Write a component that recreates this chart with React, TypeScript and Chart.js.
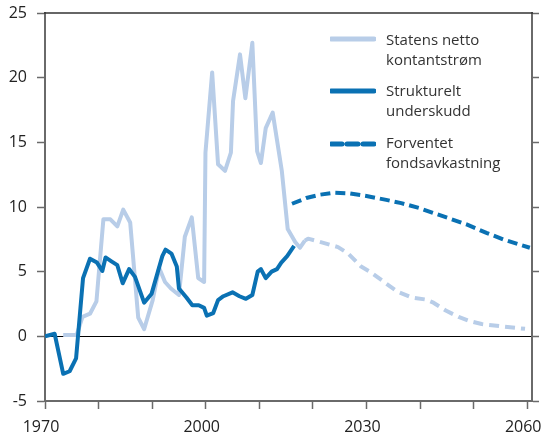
import { useEffect, useRef } from "react";
import { Chart, registerables } from "chart.js";

Chart.register(...registerables);

// Statens netto kontantstrøm (historical + projection, projection dashed)
const nettoYears = [
  1973.4, 1975.9, 1977.0, 1978.4, 1979.6, 1980.9, 1982.2, 1983.5, 1984.6, 1985.9,
  1987.4, 1988.5, 1990.1, 1991.3, 1992.4, 1993.5, 1995.0, 1996.1, 1997.4, 1998.6,
  1999.7, 1999.95, 2001.2, 2002.3, 2003.6, 2004.7, 2005.1, 2006.4, 2007.4, 2008.7,
  2009.6, 2010.3, 2011.2, 2012.5, 2014.2, 2015.3, 2016.7, 2017.6, 2018.5,
  2019.1, 2021.8, 2024.7, 2026.6, 2029.0, 2031.0, 2033.3, 2035.8, 2038.5, 2041.0,
  2042.5, 2044.8, 2047.2, 2049.5, 2051.5, 2055.0, 2059.6,
];
const nettoValues = [
  0.1, 0.1, 1.5, 1.75, 2.7, 9.05, 9.05, 8.5, 9.8, 8.8,
  1.45, 0.55, 2.8, 5.3, 4.2, 3.7, 3.2, 7.7, 9.2, 4.5,
  4.2, 14.2, 20.4, 13.3, 12.8, 14.2, 18.2, 21.8, 18.4, 22.7,
  14.3, 13.4, 16.1, 17.3, 12.8, 8.3, 7.3, 6.85, 7.4,
  7.55, 7.25, 6.9, 6.4, 5.4, 4.9, 4.2, 3.45, 3.0, 2.85,
  2.6, 2.0, 1.5, 1.15, 0.95, 0.78, 0.58,
];
const nettoProjectionFrom = 2018.5;

// Strukturelt underskudd
const underskuddYears = [
  1970.0, 1971.8, 1973.4, 1974.6, 1975.8, 1977.1, 1978.4, 1979.7, 1980.7, 1981.3,
  1982.4, 1983.5, 1984.5, 1985.7, 1986.8, 1988.5, 1989.9, 1991.9, 1992.5, 1993.6,
  1994.6, 1995.0, 1996.4, 1997.5, 1998.7, 1999.7, 2000.2, 2001.4, 2002.3, 2003.3,
  2005.0, 2006.3, 2007.5, 2008.7, 2009.7, 2010.3, 2011.2, 2012.3, 2013.3, 2014.1,
  2015.2, 2016.5,
];
const underskuddValues = [
  0.0, 0.2, -2.9, -2.7, -1.7, 4.5, 6.0, 5.7, 5.05, 6.1,
  5.8, 5.5, 4.1, 5.2, 4.6, 2.6, 3.3, 6.2, 6.7, 6.4,
  5.4, 3.7, 3.0, 2.4, 2.4, 2.2, 1.6, 1.8, 2.8, 3.1,
  3.4, 3.1, 2.9, 3.2, 5.0, 5.2, 4.5, 5.0, 5.2, 5.7,
  6.2, 7.0,
];

// Forventet fondsavkastning
const avkastningYears = [
  2016.1, 2018.8, 2021.3, 2023.8, 2026.9, 2030.0, 2033.7, 2036.5, 2040.0, 2042.4,
  2045.6, 2048.7, 2052.4, 2055.5, 2060.5,
];
const avkastningValues = [
  10.25, 10.7, 10.95, 11.1, 11.05, 10.85, 10.55, 10.3, 9.9, 9.55,
  9.1, 8.65, 8.0, 7.5, 6.85,
];

const xTickYears = [1970, 1980, 1990, 2000, 2010, 2020, 2030, 2040, 2050, 2060];
const xLabelYears = [1970, 2000, 2030, 2060];
const yMin = -5;
const yMax = 25;
const yStep = 5;

const legendLabels = [
  ["Statens netto", "kontantstrøm"],
  ["Strukturelt", "underskudd"],
  ["Forventet", "fondsavkastning"],
];

const LIGHT = "#b8cde8";
const DARK = "#0a71b3";
const AXIS = "#6a6a6a";
const TEXT = "#222222";
const FONT = "'Open Sans', 'DejaVu Sans', sans-serif";

const toPoints = (xs: number[], ys: number[]) => xs.map((x, i) => ({ x, y: ys[i] }));

export default function App() {
  const canvasRef = useRef<HTMLCanvasElement | null>(null);

  useEffect(() => {
    document.body.style.margin = "0";
    const canvas = canvasRef.current;
    if (!canvas) return;

    const topBorder = {
      id: "topBorder",
      afterDraw(chart: any) {
        const { ctx, chartArea } = chart;
        ctx.save();
        ctx.strokeStyle = "#333333";
        ctx.lineWidth = 1.5;
        ctx.beginPath();
        ctx.moveTo(chartArea.left - 1, chartArea.top);
        ctx.lineTo(chartArea.right + 1, chartArea.top);
        ctx.stroke();
        ctx.restore();
      },
    };

    const chart = new Chart(canvas, {
      type: "line",
      data: {
        datasets: [
          {
            label: "Strukturelt underskudd",
            data: toPoints(underskuddYears, underskuddValues),
            borderColor: DARK,
            borderWidth: 4,
            pointRadius: 0,
            tension: 0,
            borderJoinStyle: "round",
            fill: false,
          },
          {
            label: "Forventet fondsavkastning",
            data: toPoints(avkastningYears, avkastningValues),
            borderColor: DARK,
            borderWidth: 4,
            borderDash: [10, 5],
            pointRadius: 0,
            tension: 0,
            fill: false,
          },
          {
            label: "Statens netto kontantstrøm",
            data: toPoints(nettoYears, nettoValues),
            borderColor: LIGHT,
            borderWidth: 4,
            pointRadius: 0,
            tension: 0,
            borderJoinStyle: "round",
            fill: false,
            segment: {
              borderDash: (ctx: any) =>
                ctx.p0.parsed.x >= nettoProjectionFrom ? [10, 6] : undefined,
            },
          },
        ],
      },
      options: {
        responsive: false,
        animation: false,
        layout: { padding: { top: 13, left: 0, right: 0, bottom: 0 } },
        plugins: {
          legend: { display: false },
          tooltip: { enabled: false },
        },
        scales: {
          x: {
            type: "linear",
            min: 1970,
            max: 2060.9,
            afterBuildTicks: (s: any) => {
              s.ticks = xTickYears.map((v) => ({ value: v }));
            },
            afterFit: (s: any) => {
              s.height = 35;
              s.paddingLeft = 0;
              s.paddingRight = 0;
            },
            ticks: {
              autoSkip: false,
              maxRotation: 0,
              padding: 9,
              labelOffset: -4,
              color: TEXT,
              font: { family: FONT, size: 16 },
              callback: (v: any) => (xLabelYears.includes(Number(v)) ? String(v) : ""),
            },
            grid: {
              drawOnChartArea: false,
              drawTicks: true,
              tickLength: 8,
              tickColor: AXIS,
              tickWidth: 1.5,
            },
            border: { color: AXIS, width: 2 },
          },
          y: {
            type: "linear",
            position: "left",
            min: yMin,
            max: yMax,
            afterFit: (s: any) => {
              s.width = 45;
              s.paddingTop = 0;
              s.paddingBottom = 0;
            },
            ticks: {
              stepSize: yStep,
              padding: 10,
              color: TEXT,
              font: { family: FONT, size: 16 },
            },
            grid: {
              drawOnChartArea: true,
              drawTicks: true,
              tickLength: 8,
              tickColor: AXIS,
              tickWidth: 1.5,
              lineWidth: 1,
              color: (ctx: any) =>
                ctx.tick && ctx.tick.value === 0 ? "#000000" : "rgba(0,0,0,0)",
            },
            border: { color: AXIS, width: 2 },
          },
          y2: {
            type: "linear",
            position: "right",
            min: yMin,
            max: yMax,
            afterFit: (s: any) => {
              s.width = 12;
              s.paddingTop = 0;
              s.paddingBottom = 0;
            },
            ticks: {
              stepSize: yStep,
              padding: 0,
              font: { family: FONT, size: 16 },
              callback: () => "",
            },
            grid: {
              drawOnChartArea: false,
              drawTicks: true,
              tickLength: 7,
              tickColor: AXIS,
              tickWidth: 1.5,
            },
            border: { color: AXIS, width: 2 },
          },
        },
      },
      plugins: [topBorder],
    } as any);

    return () => chart.destroy();
  }, []);

  const sampleTops = [39, 91, 144];
  const textTops = [29, 80, 132];

  return (
    <div style={{ position: "relative", width: 544, height: 436 }}>
      <canvas ref={canvasRef} width={544} height={436} style={{ display: "block" }} />
      {legendLabels.map((lines, i) => (
        <div key={i}>
          <svg
            width={46}
            height={8}
            style={{ position: "absolute", left: 330, top: sampleTops[i] - 4 }}
          >
            <line
              x1={1}
              y1={4}
              x2={44}
              y2={4}
              stroke={i === 0 ? LIGHT : DARK}
              strokeWidth={5}
              strokeLinecap="round"
              strokeDasharray={i === 2 ? "11 5" : undefined}
            />
          </svg>
          <div
            style={{
              position: "absolute",
              left: 386,
              top: textTops[i],
              fontFamily: FONT,
              fontSize: 15,
              lineHeight: "20px",
              color: "#333333",
              whiteSpace: "nowrap",
            }}
          >
            {lines[0]}
            <br />
            {lines[1]}
          </div>
        </div>
      ))}
    </div>
  );
}
